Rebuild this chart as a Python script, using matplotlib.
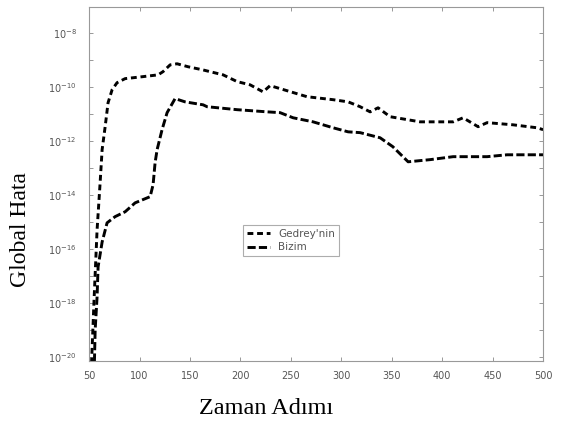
import numpy as np
import matplotlib
matplotlib.use("Agg")
import matplotlib.pyplot as plt
from matplotlib.ticker import FixedLocator, FuncFormatter, NullLocator

# Gedrey'nin (upper curve): time step vs log10(global error)
ged_x = [52, 55, 57.9, 60.9, 62.9, 65.9, 68.8, 72.8, 77.7, 85.7, 102.5, 118.4,
         123.3, 130.3, 137.2, 148.1, 162, 182.8, 196.7, 209.6, 222.4, 229.4,
         239.3, 266, 291.8, 306.7, 318.6, 328.5, 336.4, 348.3, 378, 410.8,
         420.7, 435.5, 444.5, 470.2, 494, 500]
ged_log = [-20.6, -17.8, -15.30, -13.56, -12.33, -11.48, -10.59, -10.11, -9.85,
           -9.70, -9.63, -9.56, -9.44, -9.19, -9.15, -9.26, -9.37, -9.56, -9.81,
           -9.93, -10.19, -9.96, -10.07, -10.37, -10.48, -10.56, -10.74, -10.93,
           -10.78, -11.11, -11.30, -11.30, -11.15, -11.48, -11.33, -11.41,
           -11.52, -11.59]

# Bizim (lower curve)
biz_x = [55, 56, 57.9, 58.9, 62.9, 67.8, 75.8, 85.7, 95.6, 110.5, 113.4, 115.4,
         117.4, 122.3, 127.3, 135.2, 145.1, 163, 166.9, 196.7, 226.4, 239.3,
         252.2, 272, 291.8, 306.7, 318.6, 338.4, 351, 366.2, 388, 410.8, 444.5,
         464.3, 500]
biz_log = [-20.6, -19.0, -17.78, -16.67, -15.75, -15.04, -14.81, -14.63, -14.30,
           -14.07, -13.63, -12.81, -12.33, -11.59, -10.96, -10.44, -10.56,
           -10.67, -10.74, -10.85, -10.93, -10.96, -11.15, -11.30, -11.52,
           -11.67, -11.70, -11.89, -12.22, -12.78, -12.70, -12.59, -12.59,
           -12.52, -12.52]

x_ticks = [50, 100, 150, 200, 250, 300, 350, 400, 450, 500]
y_exps = list(range(-20, -7))

fig = plt.figure(figsize=(5.64, 4.25), dpi=100)
ax = fig.add_axes([0.158, 0.151, 0.805, 0.833])

ax.semilogy(ged_x, 10.0 ** np.array(ged_log), color='black', lw=2.1,
            dashes=(2.0, 1.3), label="Gedrey'nin")
ax.semilogy(biz_x, 10.0 ** np.array(biz_log), color='black', lw=2.1,
            dashes=(2.8, 1.1), label='Bizim')

ax.set_xlim(50, 500)
ax.set_ylim(10 ** -20.15, 10 ** -7.04)
ax.set_xticks(x_ticks)
ax.yaxis.set_major_locator(FixedLocator([10.0 ** e for e in y_exps]))
ax.yaxis.set_minor_locator(NullLocator())


def ylab(v, pos):
    e = int(round(np.log10(v)))
    return r'$10^{%d}$' % e if e % 2 == 0 else ''


ax.yaxis.set_major_formatter(FuncFormatter(ylab))
ax.tick_params(direction='in', top=True, right=True, length=3, width=0.6,
               colors='#888888', labelcolor='#555555', labelsize=7)
ax.tick_params(axis='y', pad=9)
ax.tick_params(axis='x', pad=7)
for s in ax.spines.values():
    s.set_color('#999999')
    s.set_linewidth(0.8)

leg = ax.legend(loc='upper left', bbox_to_anchor=(0.339, 0.384), fontsize=7.5,
                frameon=True, fancybox=False, handlelength=2.2,
                borderpad=0.4, labelspacing=0.3, borderaxespad=0)
leg.get_frame().set_edgecolor('#999999')
leg.get_frame().set_linewidth(0.8)
for t in leg.get_texts():
    t.set_color('#555555')

fig.text(0.472, 0.04, 'Zaman Adımı', family='Liberation Serif', fontsize=17.5,
         ha='center', va='center')
fig.text(0.036, 0.46, 'Global Hata', family='Liberation Serif', fontsize=17,
         rotation=90, ha='center', va='center')

fig.savefig('out.png', dpi=100)
